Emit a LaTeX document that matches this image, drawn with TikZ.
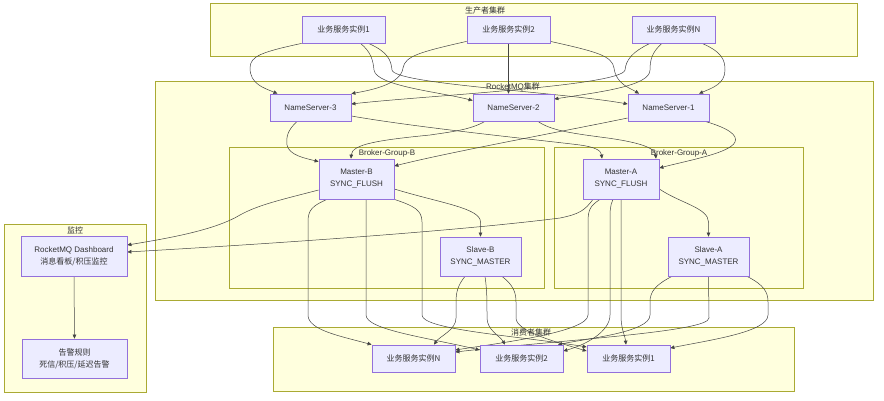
\documentclass[tikz,border=0pt]{standalone}
\usepackage{fontspec}
\setmainfont{Liberation Sans}
\newfontfamily\cjk{Noto Sans CJK SC}
\usetikzlibrary{arrows.meta,calc}
\definecolor{nfill}{HTML}{ECECFF}
\definecolor{nline}{HTML}{9370DB}
\definecolor{cfill}{HTML}{FFFFDE}
\definecolor{cline}{HTML}{AAAA33}
\definecolor{txt}{HTML}{333333}
\definecolor{edg}{HTML}{444444}
\pgfdeclarelayer{bg}
\pgfdeclarelayer{edges}
\pgfsetlayers{bg,edges,main}
\begin{document}
\begin{tikzpicture}[x=1pt,y=-1pt,
  box/.style={draw=nline,fill=nfill,line width=0.75pt,text=txt,font=\fontsize{8}{12}\selectfont,align=center,inner sep=0pt},
  clus/.style={draw=cline,fill=cfill,line width=0.75pt,inner sep=0pt},
  ctitle/.style={text=txt,font=\fontsize{8}{10}\selectfont,inner sep=0pt},
  e/.style={draw=edg,line width=0.5pt,-{Triangle[length=4pt,width=3.6pt]}},
]
\begin{pgfonlayer}{bg}
\useasboundingbox[fill=white] (0,0) rectangle (884,400);
% clusters
\node[clus,minimum width=647,minimum height=53] (gProd) at (533.5,29.5) {};
\node[clus,minimum width=718,minimum height=219] (gMQ) at (514,191) {};
\node[clus,minimum width=315,minimum height=141] (gB) at (386.5,217.5) {};
\node[clus,minimum width=249,minimum height=141] (gA) at (678.5,217.5) {};
\node[clus,minimum width=142,minimum height=168] (gMon) at (75,308) {};
\node[clus,minimum width=521,minimum height=64] (gCons) at (533.5,359) {};

\node[ctitle] (tProd) at (485,10) {\cjk 生产者集群};
\node[ctitle] (tMQ) at (513,87) {RocketMQ{\cjk 集群}};
\node[ctitle] (tB) at (387,153) {Broker-Group-B};
\node[ctitle] (tA) at (679,153) {Broker-Group-A};
\node[ctitle] (tMon) at (75,230) {\cjk 监控};
\node[ctitle] (tCons) at (531,332) {\cjk 消费者集群};
\end{pgfonlayer}

% nodes
\node[box,minimum width=83,minimum height=27] (P1) at (343.5,29.5) {\cjk 业务服务实例1};
\node[box,minimum width=83,minimum height=27] (P2) at (508.5,29.5) {\cjk 业务服务实例2};
\node[box,minimum width=83,minimum height=27] (PN) at (673.5,29.5) {\cjk 业务服务实例N};
\node[box,minimum width=81,minimum height=27] (NS3) at (310.5,107.5) {NameServer-3};
\node[box,minimum width=81,minimum height=27] (NS2) at (513.5,107.5) {NameServer-2};
\node[box,minimum width=81,minimum height=27] (NS1) at (668.5,107.5) {NameServer-1};
\node[box,minimum width=75,minimum height=40] (MB) at (356.5,179) {Master-B\\SYNC\_FLUSH};
\node[box,minimum width=81,minimum height=39] (SB) at (480.5,256.5) {Slave-B\\SYNC\_MASTER};
\node[box,minimum width=76,minimum height=40] (MA) at (621,179) {Master-A\\SYNC\_FLUSH};
\node[box,minimum width=81,minimum height=39] (SA) at (708.5,256.5) {Slave-A\\SYNC\_MASTER};
\node[box,minimum width=106,minimum height=40] (Dash) at (74,256) {RocketMQ Dashboard\\{\cjk 消息看板/积压监控}};
\node[box,minimum width=105,minimum height=39] (Alert) at (74.5,358.5) {{\cjk 告警规则}\\{\cjk 死信/积压/延迟告警}};
\node[box,minimum width=83,minimum height=27] (CN) at (413.5,358.5) {\cjk 业务服务实例N};
\node[box,minimum width=83,minimum height=27] (C2) at (521.5,358.5) {\cjk 业务服务实例2};
\node[box,minimum width=83,minimum height=27] (C1) at (628.5,358.5) {\cjk 业务服务实例1};

\begin{pgfonlayer}{edges}
% producers -> nameservers
\draw[e] (P1.south west) .. controls (262,52) and (250,56) .. (250,68) .. controls (250,84) and (264,88) .. ($(NS3.north)+(-33,0)$);
\draw[e] ($(P1.south)+(17,0)$) .. controls (371,52) and (373,60) .. (374,70) .. controls (376,86) and (440,92) .. ($(NS2.west)+(0,-7)$);
\draw[e] ($(P1.south)+(25,0)$) .. controls (388,52) and (391,60) .. (392,70) .. controls (394,84) and (560,92) .. ($(NS1.west)+(0,-3.5)$);
\draw[e] ($(P2.south west)+(0,-2)$) .. controls (420,52) and (405,56) .. (403,68) .. controls (401,84) and (372,90) .. (NS3.north east);
\draw[e] (P2.south) -- ($(NS2.north)+(-5,0)$);
\draw[e] ($(P2.south east)+(0,-2)$) .. controls (598,52) and (612,56) .. (614,68) .. controls (616,84) and (630,88) .. ($(NS1.north)+(-29.5,0)$);
\draw[e] ($(PN.south)+(-23.5,0)$) .. controls (632,52) and (626,60) .. (625,70) .. controls (622,86) and (420,96) .. ($(NS3.east)+(0,-3.5)$);
\draw[e] ($(PN.south)+(-11.5,0)$) .. controls (652,52) and (650,60) .. (650,70) .. controls (650,86) and (600,92) .. ($(NS2.east)+(0,-8.5)$);
\draw[e] ($(PN.south)+(28.5,0)$) .. controls (722,52) and (725,60) .. (725,70) .. controls (725,84) and (712,88) .. ($(NS1.north)+(30.5,0)$);

% nameservers -> masters
\draw[e] ($(NS3.south)+(-13.5,0)$) .. controls (288,130) and (286,136) .. (287,145) .. controls (289,155) and (304,158) .. ($(MB.north west)+(0,3)$);
\draw[e] ($(NS3.east)+(0,8.5)$) .. controls (420,128) and (540,140) .. (580,145) .. controls (594,147) and (601,150) .. ($(MA.north)+(-19,0)$);
\draw[e] ($(NS2.south)+(-28.5,0)$) .. controls (470,130) and (450,132) .. (430,135) .. controls (380,140) and (352,144) .. ($(MB.north)+(-5.5,0)$);
\draw[e] ($(NS2.south)+(24.5,0)$) .. controls (550,130) and (570,133) .. (600,137) .. controls (640,142) and (655,148) .. ($(MA.north)+(35,0)$);
\draw[e] ($(NS1.west)+(0,10.5)$) .. controls (560,132) and (450,152) .. ($(MB.east)+(0,-13)$);
\draw[e] ($(NS1.south)+(36.5,0)$) .. controls (728,128) and (738,135) .. (735,142) .. controls (730,153) and (690,160) .. ($(MA.east)+(0,-11)$);

% masters -> slaves
\draw[e] ($(MB.east)+(0,10)$) .. controls (440,203) and (480.5,208) .. (480.5,222) -- (SB.north);
\draw[e] ($(MA.east)+(0,10)$) .. controls (680,203) and (708.5,208) .. (708.5,222) -- (SA.north);

% masters -> dashboard
\draw[e] ($(MB.west)+(0,11)$) .. controls (280,200) and (258,205) .. (240,215) .. controls (215,230) and (170,238) .. ($(Dash.east)+(0,-11)$);
\draw[e] ($(MA.south)+(-28,0)$) .. controls (585,210) and (580,214) .. (560,218) .. controls (450,232) and (250,245) .. ($(Dash.east)+(0,-4)$);
\draw[e] (Dash.south) -- (Alert.north);

% brokers -> consumers
\draw[e] ($(MB.south)+(-29.5,0)$) .. controls (312,206) and (308,210) .. (308,222) -- (308,315) .. controls (308,330) and (340,336) .. (CN.north west);
\draw[e] ($(MB.south)+(9.5,0)$) -- (366,315) .. controls (366,330) and (430,338) .. ($(C2.west)+(0,-8.5)$);
\draw[e] (MB.south east) .. controls (414,206) and (422,210) .. (422,222) -- (422,315) .. controls (422,330) and (520,336) .. ($(C1.west)+(0,-11.5)$);

\draw[e] ($(SB.south)+(-15.5,0)$) .. controls (458,285) and (456,292) .. (456,302) -- (456,318) .. controls (456,330) and (440,336) .. ($(CN.north)+(20.5,0)$);
\draw[e] ($(SB.south)+(4.5,0)$) .. controls (487,290) and (487,300) .. (487,318) .. controls (487,330) and (500,336) .. ($(C2.north)+(-16.5,0)$);
\draw[e] ($(SB.south)+(21.5,0)$) .. controls (513,285) and (516,292) .. (516,302) -- (516,318) .. controls (516,332) and (560,343) .. ($(C1.west)+(0,-7.5)$);

\draw[e] ($(MA.south)+(-21,0)$) .. controls (590,206) and (588,210) .. (588,222) -- (588,315) .. controls (588,332) and (500,343) .. ($(CN.east)+(0,-8.5)$);
\draw[e] ($(MA.south)+(-8,0)$) .. controls (610,206) and (610,210) .. (610,222) -- (610,315) .. controls (610,332) and (585,345) .. ($(C2.east)+(0,-7.5)$);
\draw[e] (MA.south) -- (621,315) .. controls (621,330) and (625,335) .. ($(C1.north)+(-2.5,0)$);

\draw[e] ($(SA.south)+(-36.5,0)$) .. controls (655,285) and (650,292) .. (650,302) -- (650,315) .. controls (650,332) and (590,338) .. ($(C2.north)+(36.5,0)$);
\draw[e] (SA.south) -- (709,318) .. controls (709,332) and (560,340) .. ($(CN.east)+(0,-6.5)$);
\draw[e] ($(SA.south)+(38.5,0)$) .. controls (764,285) and (768,292) .. (768,302) -- (768,315) .. controls (768,332) and (710,340) .. ($(C1.east)+(0,-10.5)$);
\end{pgfonlayer}
\end{tikzpicture}
\end{document}
